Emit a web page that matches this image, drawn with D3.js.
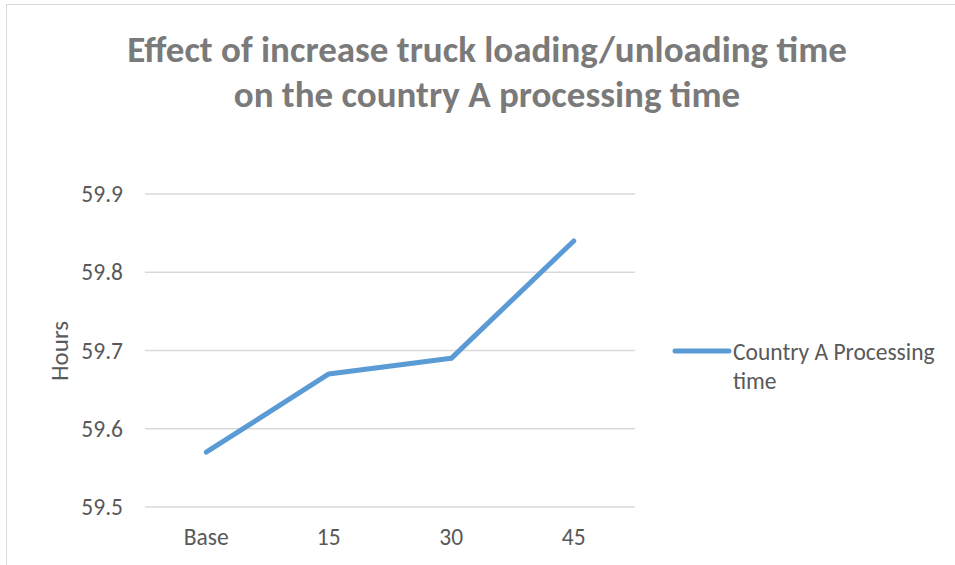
<!DOCTYPE html>
<html>
<head>
<meta charset="utf-8">
<script src="https://cdn.jsdelivr.net/npm/d3@7"></script>
<style>
  body { margin: 0; background: #fff; }
  svg { display: block; font-family: Carlito, Calibri, Lato, sans-serif; }
</style>
</head>
<body>
<svg id="chart"></svg>
<script>
const categories = ["Base", "15", "30", "45"];
const processingTime = [59.57, 59.67, 59.69, 59.84];
const yTicks = [59.5, 59.6, 59.7, 59.8, 59.9];
const titleLines = ["Effect of increase truck loading/unloading time", "on the country A processing time"];
const seriesName = ["Country A Processing", "time"];

const width = 955;
const height = 565;
const margin = { top: 194, right: 320, bottom: 58, left: 145 };
const fontFamily = "Carlito, Calibri, Lato, sans-serif";

const svg = d3.select("#chart").attr("width", width).attr("height", height);

// outer chart border (runs off the right and bottom edge)
svg.append("rect")
  .attr("x", 6.5).attr("y", 4.5)
  .attr("width", 1200).attr("height", 1200)
  .attr("fill", "none").attr("stroke", "#d9d9d9");

const x = d3.scaleBand()
  .domain(categories)
  .range([margin.left, width - margin.right]);

const y = d3.scaleLinear()
  .domain([59.5, 59.9])
  .range([height - margin.bottom, margin.top]);

// title
svg.append("text")
  .attr("y", 62)
  .attr("text-anchor", "middle")
  .attr("font-size", 37).attr("font-weight", "bold")
  .attr("fill", "#7a7a7a")
  .selectAll("tspan")
  .data(titleLines)
  .join("tspan")
  .attr("x", 487)
  .attr("dy", (d, i) => i === 0 ? 0 : 45)
  .text(d => d);

// gridlines
svg.append("g")
  .selectAll("line")
  .data(yTicks)
  .join("line")
  .attr("x1", margin.left).attr("x2", width - margin.right)
  .attr("y1", d => y(d)).attr("y2", d => y(d))
  .attr("stroke", "#d9d9d9").attr("stroke-width", 1.3);

// y axis labels
const yAxis = d3.axisLeft(y).tickValues(yTicks).tickFormat(d3.format(".1f")).tickSize(0).tickPadding(22);
svg.append("g")
  .attr("transform", `translate(${margin.left},0)`)
  .call(yAxis)
  .call(g => g.select(".domain").remove())
  .call(g => g.selectAll("text")
    .attr("font-family", fontFamily)
    .attr("font-size", 23.5).attr("fill", "#595959"));

// x axis labels
const xAxis = d3.axisBottom(x).tickSize(0).tickPadding(21);
svg.append("g")
  .attr("transform", `translate(0,${height - margin.bottom})`)
  .call(xAxis)
  .call(g => g.select(".domain").remove())
  .call(g => g.selectAll("text")
    .attr("font-family", fontFamily)
    .attr("font-size", 23.5).attr("fill", "#595959"));

// y axis title
svg.append("text")
  .attr("transform", "translate(68,351) rotate(-90)")
  .attr("text-anchor", "middle")
  .attr("font-size", 25).attr("fill", "#595959")
  .text("Hours");

// series line
const line = d3.line()
  .x((d, i) => x(categories[i]) + x.bandwidth() / 2)
  .y(d => y(d));

svg.append("path")
  .datum(processingTime)
  .attr("d", line)
  .attr("fill", "none")
  .attr("stroke", "#5b9bd5")
  .attr("stroke-width", 5)
  .attr("stroke-linecap", "round")
  .attr("stroke-linejoin", "round");

// legend
const legend = svg.append("g").attr("transform", "translate(675,351)");
legend.append("line")
  .attr("x1", 0).attr("x2", 54)
  .attr("stroke", "#5b9bd5").attr("stroke-width", 5)
  .attr("stroke-linecap", "round");
legend.append("text")
  .attr("font-size", 23.5).attr("fill", "#595959")
  .selectAll("tspan")
  .data(seriesName)
  .join("tspan")
  .attr("x", 58)
  .attr("y", (d, i) => 9 + i * 29)
  .text(d => d);
</script>
</body>
</html>
